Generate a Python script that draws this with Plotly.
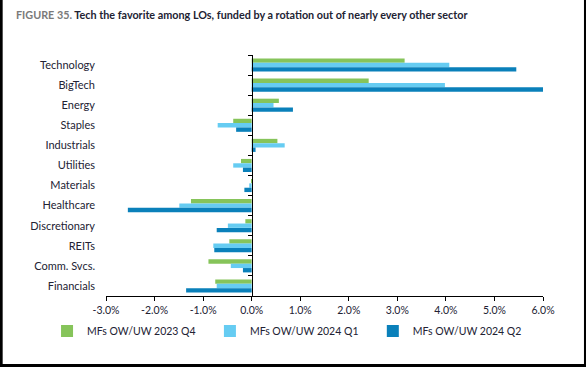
import plotly.graph_objects as go

categories = ["Technology", "BigTech", "Energy", "Staples", "Industrials", "Utilities",
              "Materials", "Healthcare", "Discretionary", "REITs", "Comm. Svcs.", "Financials"]
q4_2023 = [3.15, 2.41, 0.56, -0.38, 0.53, -0.22, -0.01, -1.25, -0.13, -0.46, -0.89, -0.75]
q1_2024 = [4.07, 3.98, 0.45, -0.70, 0.68, -0.38, -0.05, -1.49, -0.49, -0.79, -0.43, -0.72]
q2_2024 = [5.45, 6.00, 0.85, -0.32, 0.08, -0.18, -0.15, -2.55, -0.72, -0.77, -0.18, -1.35]
series_names = ["MFs OW/UW 2023 Q4", "MFs OW/UW 2024 Q1", "MFs OW/UW 2024 Q2"]
colors = ["#86C45A", "#66CCF2", "#0A80BA"]
x_tickvals = [-3, -2, -1, 0, 1, 2, 3, 4, 5, 6]
x_ticktext = ["-3.0%", "-2.0%", "-1.0%", "0.0%", "1.0%", "2.0%", "3.0%", "4.0%", "5.0%", "6.0%"]

FONT = "Lato"
TXT = "#222233"
W, H = 586, 367
L, R, T, B = 106, 42.7, 54.7, 71
pw, ph = W - L - R, H - T - B

def px_x(p):
    return (p - L) / pw

def px_y(p):
    return (H - B - p) / ph

legend_ids = ["legend", "legend2", "legend3"]
legend_text_x = [87, 250, 413]

fig = go.Figure()
for name, vals, c, lg in zip(series_names, [q4_2023, q1_2024, q2_2024], colors, legend_ids):
    fig.add_trace(go.Bar(x=vals, y=categories, orientation="h", name=name, legend=lg,
                         marker=dict(color=c, line=dict(width=0))))

# invisible helper trace for the centre axis with boundary ticks
fig.add_trace(go.Scatter(x=[0] * len(categories), y=categories, yaxis="y2", mode="markers",
                         marker=dict(opacity=0), showlegend=False, hoverinfo="skip"))

shapes = [
    dict(type="rect", xref="paper", yref="paper", x0=px_x(-2), x1=px_x(2.6), y0=px_y(370), y1=px_y(-2),
         fillcolor="black", line=dict(width=0), layer="above"),
    dict(type="rect", xref="paper", yref="paper", x0=px_x(584.3), x1=px_x(590), y0=px_y(370), y1=px_y(-2),
         fillcolor="black", line=dict(width=0), layer="above"),
    dict(type="rect", xref="paper", yref="paper", x0=px_x(-2), x1=px_x(590), y0=px_y(370), y1=px_y(364),
         fillcolor="black", line=dict(width=0), layer="above"),
]

legends = {}
for lg, tx in zip(legend_ids, legend_text_x):
    legends[lg] = dict(orientation="h", x=px_x(tx - 40), xanchor="left", y=px_y(331), yanchor="middle",
                       font=dict(family=FONT, size=10.5, color=TXT), bgcolor="rgba(0,0,0,0)",
                       itemwidth=30)

fig.update_layout(
    width=W, height=H,
    margin=dict(l=L, r=R, t=T, b=B, pad=0, autoexpand=False),
    paper_bgcolor="white", plot_bgcolor="white",
    barmode="group", bargap=0.35, bargroupgap=0,
    font=dict(family=FONT, size=11, color=TXT),
    title=dict(
        text="<b><span style='color:#7a7a7a'>FIGURE 35.</span> Tech the favorite among LOs, funded by a rotation out of nearly every other sector</b>",
        x=16 / W, xref="container", xanchor="left",
        y=1 - 15 / H, yref="container", yanchor="middle",
        font=dict(family=FONT, size=10.8, color=TXT),
    ),
    xaxis=dict(range=[-3, 6], tickvals=x_tickvals, ticktext=x_ticktext,
               showline=True, linecolor="black", linewidth=1, ticks="outside", ticklen=4,
               tickcolor="black", showgrid=False, zeroline=False,
               tickfont=dict(size=10.5, color=TXT)),
    yaxis=dict(type="category", categoryarray=categories, range=[11.5, -0.5],
               showline=False, ticks="", showgrid=False, ticklabelstandoff=10,
               tickfont=dict(size=11, color=TXT)),
    yaxis2=dict(type="category", categoryarray=categories, range=[11.5, -0.5], matches="y",
                overlaying="y", anchor="free", position=1 / 3, side="left",
                showline=True, linecolor="black", linewidth=1, ticks="outside", ticklen=4,
                tickcolor="black", tickson="boundaries", showticklabels=False, showgrid=False),
    shapes=shapes,
    **legends,
)

fig.write_html("out.html", config={"displayModeBar": False},
               post_script="document.body.style.margin='0';document.body.style.padding='0';")
